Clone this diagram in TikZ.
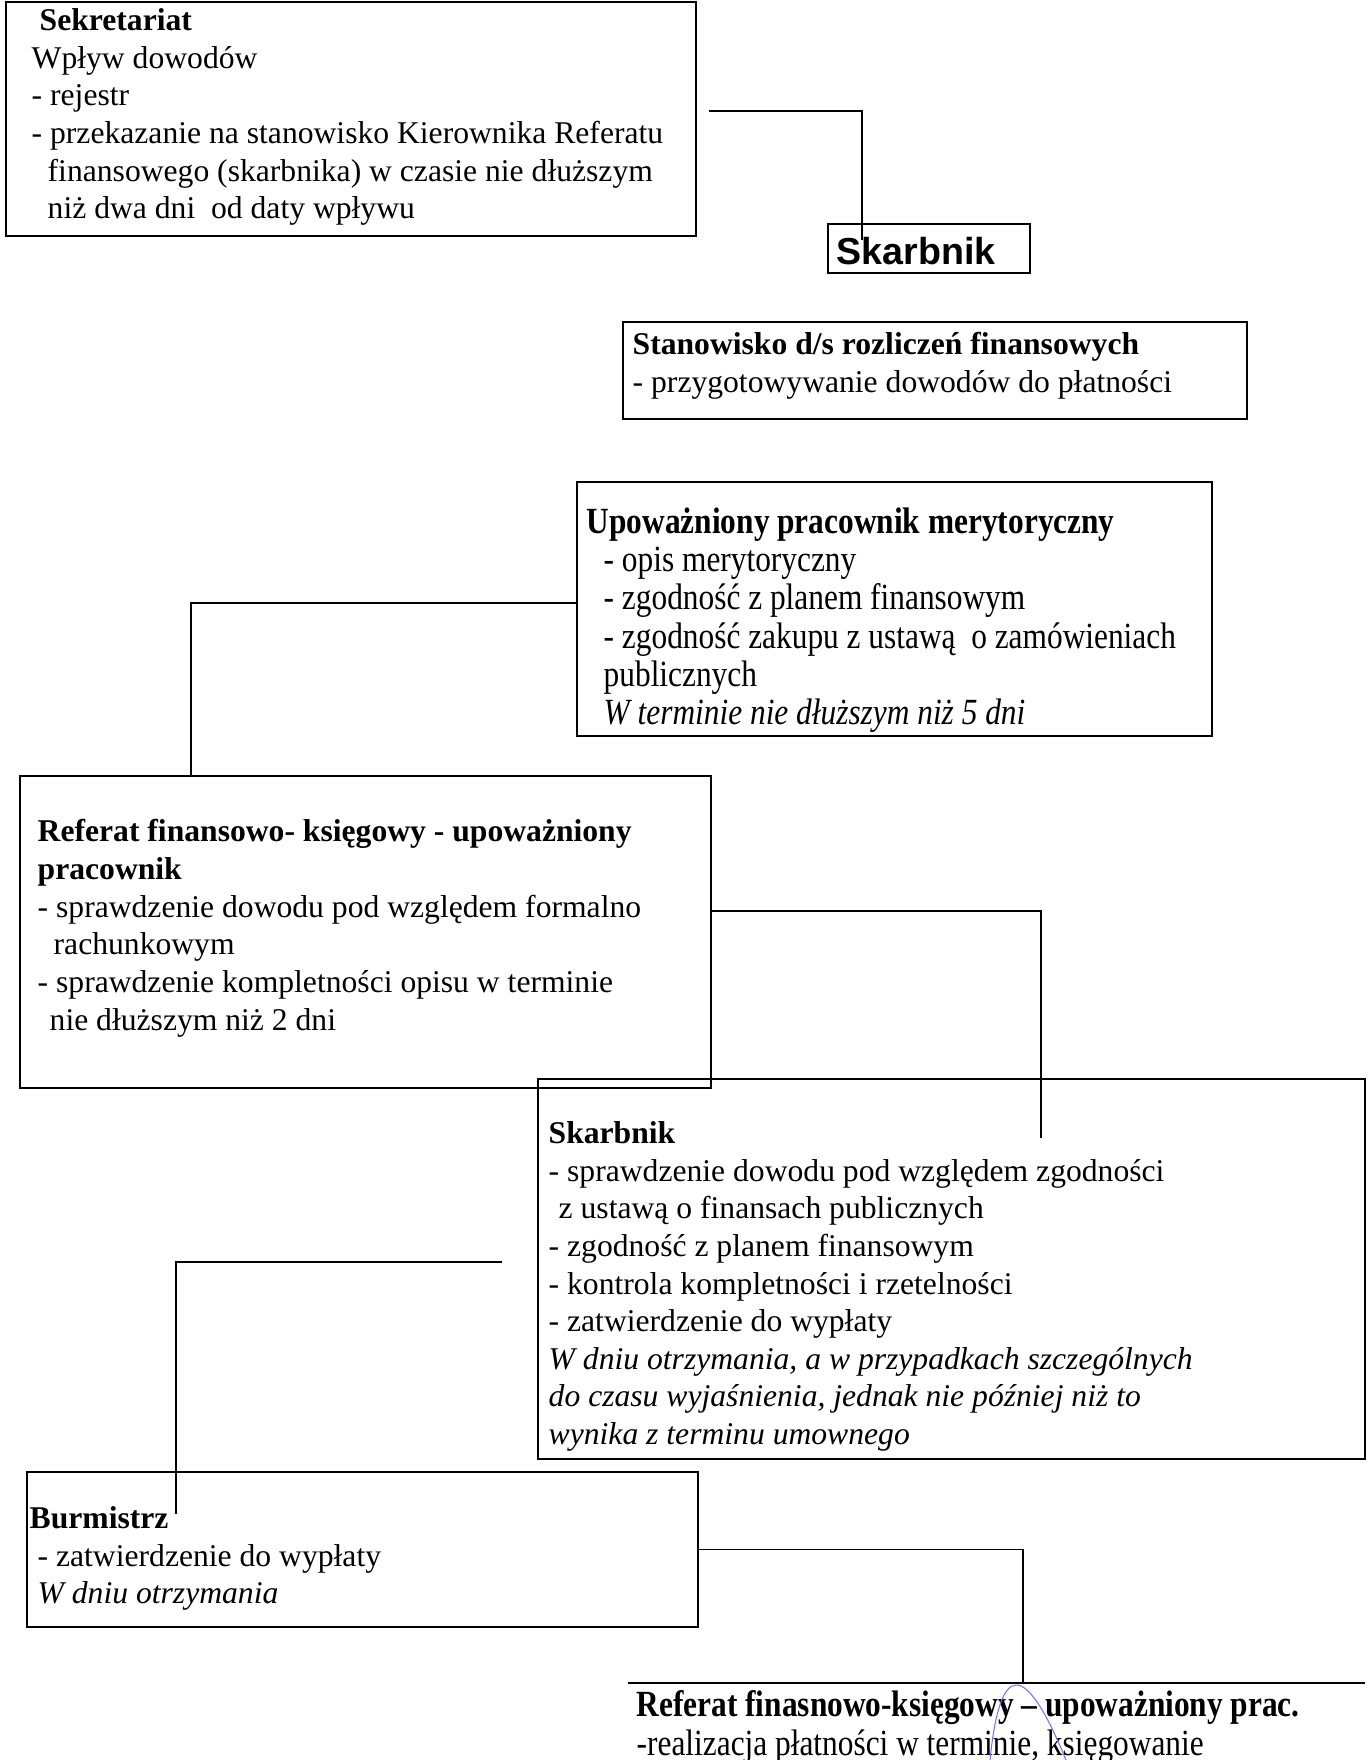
\documentclass[tikz,border=0pt]{standalone}
\usepackage{fontspec}
\setmainfont{Liberation Serif}
\newfontfamily\condfont[FakeStretch=0.85]{Liberation Serif}
\newfontfamily\arialfont{Liberation Sans}
\usetikzlibrary{fit}
\tikzset{
  box/.style={draw, line width=.6pt, inner sep=0pt},
  txt/.style={anchor=north west, inner sep=0pt, align=left, font=\fontsize{9}{10.7}\selectfont},
  cond/.style={txt, font=\condfont\fontsize{10.5}{10.9}\selectfont},
  link/.style={line width=.5pt}
}
\begin{document}
\begin{tikzpicture}[x=.1mm, y=-.1mm]
\useasboundingbox (0,0) rectangle (1370,1760);

% boxes
\node[box, fit={(6,2) (696,236)}] (sekr) {};
\node[box, fit={(828,224) (1030,273)}] (skarb) {};
\node[box, fit={(623,322) (1247,419)}] (stan) {};
\node[box, fit={(577,482) (1212,736)}] (upow) {};
\node[box, fit={(20,776) (711,1088)}] (ref) {};
\node[box, fit={(538,1079) (1365,1459)}] (skb) {};
\node[box, fit={(27,1472) (698,1627)}] (burm) {};
\coordinate (finL) at (628,1683);
\coordinate (finR) at (1365,1683);
\draw[line width=.6pt] (finL) -- (finR);

% texts
\node[txt] (sekr-t) at (31,8) {\hspace*{.8mm}\textbf{Sekretariat}\\
Wpływ dowodów\\
- rejestr\\
- przekazanie na stanowisko Kierownika Referatu\\
\hspace*{1.6mm}finansowego (skarbnika) w czasie nie dłuższym\\
\hspace*{1.6mm}niż dwa dni\ \ od daty wpływu};
\node[inner sep=0pt, font=\arialfont\bfseries\fontsize{10.7}{12}\selectfont] (skarb-t) at (916,251) {Skarbnik};
\node[txt] (stan-t) at (632,332) {\textbf{Stanowisko d/s rozliczeń finansowych}\\
- przygotowywanie dowodów do płatności};
\node[cond] (upow-t) at (586,507) {\textbf{Upoważniony pracownik merytoryczny}\\
\hspace*{1.7mm}- opis merytoryczny\\
\hspace*{1.7mm}- zgodność z planem finansowym\\
\hspace*{1.7mm}- zgodność zakupu z ustawą\ \ o zamówieniach\\
\hspace*{1.7mm}publicznych\\
\hspace*{1.7mm}\textit{W terminie nie dłuższym niż 5 dni}};
\node[txt] (ref-t) at (37,819) {\textbf{Referat finansowo- księgowy - upoważniony}\\
\textbf{pracownik}\\
- sprawdzenie dowodu pod względem formalno\\
\hspace*{1.6mm}rachunkowym\\
- sprawdzenie kompletności opisu w terminie\\
\hspace*{1.2mm}nie dłuższym niż 2 dni};
\node[txt] (skb-t) at (548,1121) {\textbf{Skarbnik}\\
- sprawdzenie dowodu pod względem zgodności\\
\hspace*{1mm}z ustawą o finansach publicznych\\
- zgodność z planem finansowym\\
- kontrola kompletności i rzetelności\\
- zatwierdzenie do wypłaty\\
\textit{W dniu otrzymania, a w przypadkach szczególnych}\\
\textit{do czasu wyjaśnienia, jednak nie później niż to}\\
\textit{wynika z terminu umownego}};
\node[txt] (burm-t) at (29,1506) {\textbf{Burmistrz}\\
\hspace*{.8mm}- zatwierdzenie do wypłaty\\
\hspace*{.8mm}\textit{W dniu otrzymania}};
\node[cond] (fin-t) at (636,1690) {\textbf{Referat finasnowo-księgowy – upoważniony prac.}\\
-realizacja płatności w terminie, księgowanie};

% connectors
\coordinate (c1) at (709,111);
\draw[link] (c1) -| ([xshift=-6.7mm,yshift=-1.7mm]skarb.north);
\draw[link] ([yshift=.6mm]upow.west) -| ([xshift=-17.45mm]ref.north);
\draw[link] ([yshift=2.1mm]ref.east) -| ([xshift=8.95mm,yshift=-6mm]skb.north);
\draw[link] ([xshift=-3.5mm,yshift=.7mm]skb.west) -| ([xshift=-18.65mm,yshift=-4.3mm]burm.north);
\draw[link] (burm.east) -| (finL -| 1023,0);

% pen mark
\draw[blue!55, line width=.3pt] (990,1760) .. controls (1000,1660) and (1025,1660) .. (1066,1760);
\end{tikzpicture}
\end{document}
